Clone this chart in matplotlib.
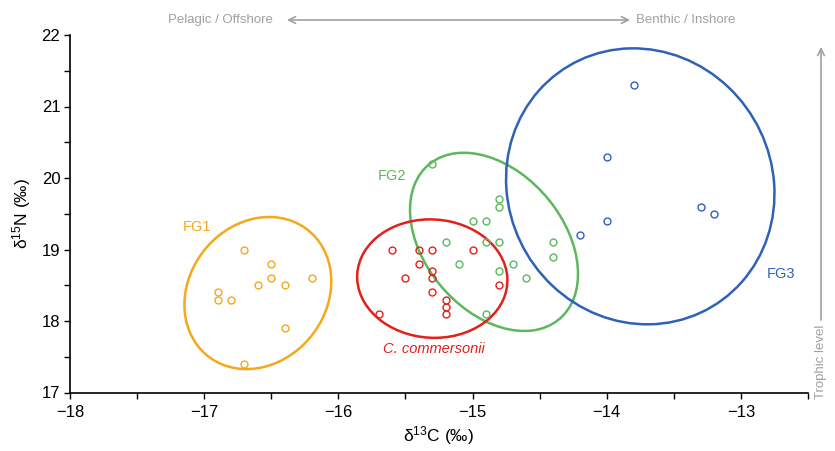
import numpy as np
import matplotlib
matplotlib.use("Agg")
import matplotlib.pyplot as plt
from matplotlib.patches import Ellipse
from matplotlib import font_manager

plt.rcParams['font.family'] = ['Liberation Sans', 'DejaVu Sans']
plt.rcParams['mathtext.fontset'] = 'custom'
plt.rcParams['mathtext.rm'] = 'Liberation Sans'
plt.rcParams['mathtext.it'] = 'Liberation Sans:italic'

_names = {f.name for f in font_manager.fontManager.ttflist}
TICK_FAMILY = 'Liberation Sans Narrow' if 'Liberation Sans Narrow' in _names else 'Liberation Sans'

# Stable isotope values per functional group
fg1_c = [-16.7, -16.5, -16.5, -16.6, -16.4, -16.2, -16.9, -16.9, -16.8, -16.4, -16.7]
fg1_n = [19.0, 18.8, 18.6, 18.5, 18.5, 18.6, 18.4, 18.3, 18.3, 17.9, 17.4]

fg2_c = [-15.3, -14.8, -14.8, -15.0, -14.9, -15.2, -14.9, -14.8, -15.1, -14.8,
         -14.7, -14.6, -14.9, -14.4, -14.4]
fg2_n = [20.2, 19.7, 19.6, 19.4, 19.4, 19.1, 19.1, 19.1, 18.8, 18.7,
         18.8, 18.6, 18.1, 19.1, 18.9]

cc_c = [-15.6, -15.4, -15.3, -15.0, -15.4, -15.3, -15.5, -15.3, -14.8, -15.3,
        -15.2, -15.2, -15.2, -15.7]
cc_n = [19.0, 19.0, 19.0, 19.0, 18.8, 18.7, 18.6, 18.6, 18.5, 18.4,
        18.3, 18.2, 18.1, 18.1]

fg3_c = [-13.8, -14.0, -14.0, -14.2, -13.3, -13.2]
fg3_n = [21.3, 20.3, 19.4, 19.2, 19.6, 19.5]

x_ticks = [-18, -17, -16, -15, -14, -13]
x_tick_labels = ["\u221218", "\u221217", "\u221216", "\u221215", "\u221214", "\u221213"]
y_ticks = [17, 18, 19, 20, 21, 22]

groups = [
    ("FG1", fg1_c, fg1_n, "#F5A81C", (-17.05, 19.32), "normal"),
    ("FG2", fg2_c, fg2_n, "#5CB85C", (-15.60, 20.03), "normal"),
    ("C. commersonii", cc_c, cc_n, "#E2201C", (-15.29, 17.61), "italic"),
    ("FG3", fg3_c, fg3_n, "#2E62B8", (-12.70, 18.66), "normal"),
]

CHI2_95_2DF = 5.991


def confidence_ellipse(x, y, color, ax):
    x = np.asarray(x)
    y = np.asarray(y)
    cov = np.cov(x, y)
    vals, vecs = np.linalg.eigh(cov)
    order = vals.argsort()[::-1]
    vals, vecs = vals[order], vecs[:, order]
    angle = np.degrees(np.arctan2(vecs[1, 0], vecs[0, 0]))
    w, h = 2 * np.sqrt(vals * CHI2_95_2DF)
    ell = Ellipse((x.mean(), y.mean()), w, h, angle=angle, fill=False,
                  edgecolor=color, lw=1.8, zorder=2)
    ax.add_patch(ell)


fig = plt.figure(figsize=(8.35, 4.51), dpi=100)
ax = fig.add_axes([70 / 835, 1 - 392.5 / 451, (808 - 70) / 835, (392.5 - 35) / 451])

for name, xc, yn, col, (lx, ly), style in groups:
    ax.plot(xc, yn, linestyle='none', marker='o', markersize=5,
            markerfacecolor='none', markeredgecolor=col, markeredgewidth=1.0, zorder=3)
    confidence_ellipse(xc, yn, col, ax)
    ax.text(lx, ly, name, color=col, fontsize=10.5, style=style,
            ha='center', va='center')

ax.set_xlim(-18, -12.5)
ax.set_ylim(17, 22)
ax.set_xticks(x_ticks)
ax.set_xticklabels(x_tick_labels)
ax.set_xticks(np.arange(-18, -12.4, 0.5), minor=True)
ax.set_yticks(y_ticks)
ax.set_yticks(np.arange(17, 22.01, 0.5), minor=True)
for s in ("top", "right"):
    ax.spines[s].set_visible(False)
for s in ("left", "bottom"):
    ax.spines[s].set_linewidth(1.2)
ax.tick_params(which='both', direction='out', length=4, width=1.0, labelsize=12)
ax.tick_params(axis='x', pad=5)
ax.tick_params(axis='y', pad=3)
for lab in ax.get_xticklabels() + ax.get_yticklabels():
    lab.set_family(TICK_FAMILY)

ax.set_xlabel(r"δ$^{13}$C (‰)", fontsize=12.5, labelpad=3)
ax.set_ylabel(r"δ$^{15}$N (‰)", fontsize=12.5, labelpad=6)

grey = "#A0A0A0"
fig.text(220 / 835, 1 - 20 / 451, "Pelagic / Offshore", color=grey, fontsize=9.5,
         ha='center', va='center')
fig.text(686 / 835, 1 - 20 / 451, "Benthic / Inshore", color=grey, fontsize=9.5,
         ha='center', va='center')
ax.annotate("", xy=(630 / 835, 1 - 20 / 451), xytext=(287 / 835, 1 - 20 / 451),
            xycoords='figure fraction', textcoords='figure fraction',
            arrowprops=dict(arrowstyle='<->', color=grey, lw=1.2,
                            shrinkA=0, shrinkB=0, mutation_scale=12))
ax.annotate("", xy=(821 / 835, 1 - 47 / 451), xytext=(821 / 835, 1 - 320 / 451),
            xycoords='figure fraction', textcoords='figure fraction',
            arrowprops=dict(arrowstyle='->', color=grey, lw=1.2,
                            shrinkA=0, shrinkB=0, mutation_scale=12))
fig.text(821 / 835, 1 - 362 / 451, "Trophic level", color=grey, fontsize=9.5,
         rotation=90, ha='center', va='center')

fig.savefig("out.png", dpi=100)
